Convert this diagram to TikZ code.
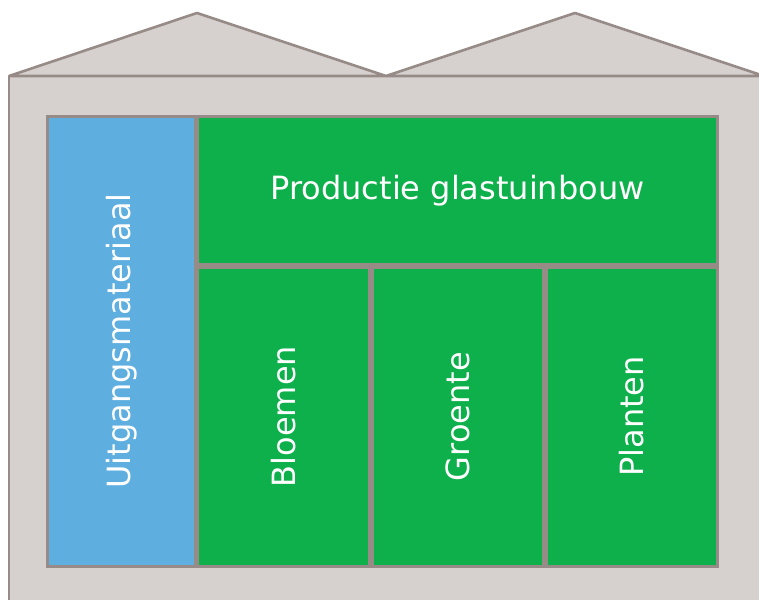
\documentclass[tikz,border=0pt]{standalone}
\usepackage{fontspec}
\setmainfont{DejaVu Sans}
\definecolor{edge}{HTML}{968B86}
\definecolor{wall}{HTML}{D6D1CE}
\definecolor{bluebox}{HTML}{5EAEDF}
\definecolor{greenbox}{HTML}{0EB04C}
\tikzset{
  house/.style={fill=wall, draw=edge, line width=2.6pt, line join=bevel},
  cell/.style={draw=edge, line width=3pt, inner sep=0pt, text=white,
    font=\fontsize{32}{38}\selectfont},
}
\begin{document}
\begin{tikzpicture}[x=1pt,y=-1pt]
\useasboundingbox (0,0) rectangle (759,599);
\begin{scope}
\clip (0,0) rectangle (759,599);
\path[house] (9,76) rectangle (775,620);
\path[house] (9,76) -- (197,13) -- (386,76) -- cycle;
\path[house] (386,76) -- (575,13) -- (764,76) -- cycle;
\end{scope}
\node[cell, fill=bluebox, rotate=90, minimum width=450pt, minimum height=148.5pt] (uit) at (121.25,341) {Uitgangsmateriaal};
\node[cell, fill=greenbox, minimum width=520pt, minimum height=148.5pt] (prod) at (457.5,190.25) {Productie glastuinbouw};
\node[cell, fill=greenbox, rotate=90, minimum width=299pt, minimum height=171.5pt] (bloem) at (283.25,416.5) {Bloemen};
\node[cell, fill=greenbox, rotate=90, minimum width=299pt, minimum height=171.5pt] (groen) at (457.75,416.5) {Groente};
\node[cell, fill=greenbox, rotate=90, minimum width=299pt, minimum height=171pt] (plant) at (632,416.5) {Planten};
\end{tikzpicture}
\end{document}
